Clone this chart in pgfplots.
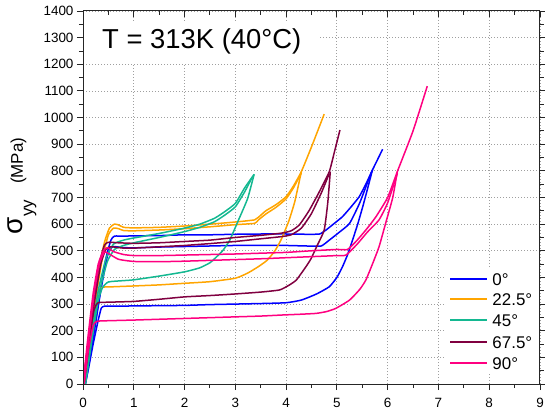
\documentclass[border=0pt]{standalone}
\usepackage{fontspec}
\setmainfont{Liberation Sans}
\usepackage{pgfplots}
\pgfplotsset{compat=1.18}
\definecolor{colblue}{RGB}{0,0,255}
\definecolor{colorange}{RGB}{255,165,0}
\definecolor{colgreen}{RGB}{20,184,145}
\definecolor{colmaroon}{RGB}{128,0,64}
\definecolor{colpink}{RGB}{255,0,128}
\pgfplotsset{
  base/.style={
    width=457bp, height=373bp, scale only axis,
    at={(0,0)}, anchor=south west,
    xmin=0, xmax=9, ymin=0, ymax=1400,
    xtick={0,1,...,9}, ytick={0,100,...,1400},
    minor x tick num=1, minor y tick num=1,
    major tick length=6bp, minor tick length=4bp,
    axis line style={line width=1bp, black!85},
    every tick/.style={line width=0.9bp, black!85},
    /pgf/number format/assume math mode=true,
    /pgf/number format/set thousands separator={},
    ticklabel style={font=\fontsize{13.5}{13.5}\selectfont},
  },
  crv/.style={line width=1.5bp, line join=round, smooth, tension=0.3},
}
\tikzset{legtxt/.style={anchor=west, inner sep=0pt, text height=12.2bp, text depth=0bp,
  font=\fontsize{17}{17}\selectfont}}
\begin{document}
\begin{tikzpicture}
\begin{axis}[base,
  tick align=outside, xtick pos=left, ytick pos=left,
  grid=major,
  major grid style={line width=0.8bp, gray!75, dash pattern=on 1bp off 2bp},
  xticklabel style={yshift=-5bp},
]
% 0 deg
\addplot[crv, color=colblue] coordinates {(0.03,0)(0.15,120)(0.3,300)(0.45,470)(0.55,540)(0.62,555)(0.8,555)(1,556)(1.5,557)(2,560)(2.5,560)(3,562)(3.5,563)(4,563)(4.4,562)(4.66,563)(4.8,580)(4.95,603)(5.11,628)(5.28,665)(5.44,703)(5.57,750)(5.7,803)(5.8,842)(5.9,881)};
\addplot[crv, color=colblue] coordinates {(0.05,0)(0.2,170)(0.35,350)(0.48,480)(0.58,515)(0.8,512)(1,511)(1.5,514)(2,516)(2.5,518)(3,520)(3.5,520)(4,520)(4.4,518)(4.69,518)(4.85,540)(5.05,570)(5.25,603)(5.45,680)(5.68,795)};
\addplot[crv, color=colblue] coordinates {(0.04,0)(0.1,50)(0.2,150)(0.3,240)(0.36,285)(0.42,292)(0.6,292)(1,293)(1.5,294)(2,295)(2.5,298)(3,300)(3.5,302)(4,305)(4.3,315)(4.6,338)(4.85,365)(5.0,400)(5.11,440)(5.21,485)(5.31,541)(5.41,600)(5.51,666)(5.6,730)(5.7,803)};
% 22.5 deg
\addplot[crv, color=colorange] coordinates {(0,0)(0.1,150)(0.2,290)(0.3,420)(0.42,530)(0.52,585)(0.62,600)(0.7,597)(0.8,588)(1,586)(1.5,588)(2,593)(2.5,600)(3,608)(3.38,616)(3.45,625)(3.6,650)(3.8,673)(4.0,703)(4.15,745)(4.3,797)(4.5,890)(4.75,1013)};
\addplot[crv, color=colorange] coordinates {(0.02,0)(0.12,150)(0.25,320)(0.38,470)(0.5,560)(0.6,585)(0.7,583)(0.8,576)(1,575)(1.5,578)(2,583)(2.5,590)(3,598)(3.38,603)(3.45,615)(3.6,638)(3.8,663)(4.0,695)(4.15,738)(4.3,792)};
\addplot[crv, color=colorange] coordinates {(0.02,0)(0.1,120)(0.2,250)(0.3,345)(0.38,363)(0.6,365)(1,368)(1.5,372)(2,378)(2.5,384)(3.0,397)(3.24,416)(3.45,440)(3.63,465)(3.78,500)(3.9,541)(4.05,610)(4.17,684)(4.3,797)};
% 45 deg
\addplot[crv, color=colgreen] coordinates {(0.03,0)(0.15,170)(0.3,350)(0.45,470)(0.6,525)(0.8,540)(1,548)(1.5,565)(2,585)(2.3,600)(2.59,622)(2.8,648)(3.0,678)(3.18,735)(3.37,787)};
\addplot[crv, color=colgreen] coordinates {(0.05,0)(0.18,170)(0.33,350)(0.48,460)(0.62,505)(0.8,520)(1,530)(1.5,550)(2,572)(2.3,588)(2.59,609)(2.8,635)(3.0,665)(3.18,720)(3.33,775)};
\addplot[crv, color=colgreen] coordinates {(0.04,0)(0.15,150)(0.28,300)(0.38,360)(0.5,383)(0.8,388)(1,391)(1.5,405)(2,421)(2.3,436)(2.5,455)(2.59,470)(2.75,500)(2.89,540)(3.05,610)(3.24,695)(3.37,787)};
% 67.5 deg
\addplot[crv, color=colmaroon] coordinates {(0,0)(0.1,150)(0.2,300)(0.32,450)(0.42,520)(0.5,532)(0.7,530)(1,528)(1.5,530)(2,535)(2.5,540)(3,550)(3.5,558)(3.9,566)(4.1,575)(4.26,597)(4.45,650)(4.65,720)(4.85,797)(4.95,870)(5.06,953)};
\addplot[crv, color=colmaroon] coordinates {(0.02,0)(0.12,150)(0.22,300)(0.35,450)(0.45,505)(0.55,515)(0.8,510)(1,510)(1.5,515)(2,520)(2.5,527)(3,535)(3.5,545)(3.9,553)(4.1,560)(4.3,585)(4.5,640)(4.7,720)(4.85,790)};
\addplot[crv, color=colmaroon] coordinates {(0.02,0)(0.12,170)(0.22,280)(0.3,305)(0.5,307)(1,310)(1.5,318)(2,327)(2.5,332)(3,338)(3.5,345)(3.87,353)(4.05,370)(4.2,390)(4.39,440)(4.49,470)(4.6,515)(4.75,578)(4.82,680)(4.87,797)};
% 90 deg
\addplot[crv, color=colpink] coordinates {(0,0)(0.1,180)(0.2,340)(0.3,450)(0.4,500)(0.48,512)(0.6,497)(0.8,486)(1,482)(1.5,482)(2,484)(2.5,486)(3,488)(3.5,491)(4,494)(4.5,500)(5.0,505)(5.21,505)(5.4,540)(5.6,585)(5.77,628)(6.0,700)(6.19,797)(6.5,950)(6.78,1118)};
\addplot[crv, color=colpink] coordinates {(0.02,0)(0.12,180)(0.22,340)(0.32,450)(0.42,495)(0.5,490)(0.7,468)(1,460)(1.5,459)(2,461)(2.5,464)(3,467)(3.5,470)(4,474)(4.5,478)(5.0,482)(5.18,484)(5.4,525)(5.6,570)(5.83,616)(6.0,680)(6.19,790)};
\addplot[crv, color=colpink] coordinates {(0.02,0)(0.1,120)(0.2,220)(0.27,235)(0.4,237)(1,240)(1.5,243)(2,246)(2.5,249)(3,252)(3.5,255)(3.93,259)(4.3,262)(4.59,265)(4.8,272)(4.98,284)(5.25,315)(5.45,355)(5.57,390)(5.7,450)(5.83,515)(5.97,610)(6.1,700)(6.19,797)};
% title
\node[fill=white, inner xsep=17bp, inner ysep=8bp, anchor=west,
  font=\fontsize{27.5}{27.5}\selectfont] at (axis cs:0.04,1284) {T = 313K (40°C)};
% legend (drawn as a key box)
\fill[white] (axis cs:7.15,42) rectangle (axis cs:8.95,432);
\draw[colblue, line width=1.5bp] (axis cs:7.23,394) -- (axis cs:7.96,394);
\node[legtxt] at (axis cs:8.06,394) {0°};
\draw[colorange, line width=1.5bp] (axis cs:7.23,319) -- (axis cs:7.96,319);
\node[legtxt] at (axis cs:8.06,319) {22.5°};
\draw[colgreen, line width=1.5bp] (axis cs:7.23,240) -- (axis cs:7.96,240);
\node[legtxt] at (axis cs:8.06,240) {45°};
\draw[colmaroon, line width=1.5bp] (axis cs:7.23,158) -- (axis cs:7.96,158);
\node[legtxt] at (axis cs:8.06,158) {67.5°};
\draw[colpink, line width=1.5bp] (axis cs:7.23,79) -- (axis cs:7.96,79);
\node[legtxt] at (axis cs:8.06,79) {90°};
\end{axis}
\begin{axis}[base, tick align=inside, xtick pos=right, ytick=\empty, xticklabels=\empty]
\end{axis}
\begin{axis}[base, tick align=outside, ytick pos=right, xtick=\empty, yticklabels=\empty]
\end{axis}
\node[rotate=90, anchor=base, inner sep=0pt] at (-60bp,198bp)
  {\fontsize{28}{28}\selectfont σ\raisebox{-10bp}{\fontsize{17}{17}\selectfont yy}\hspace{16bp}\fontsize{17}{17}\selectfont (MPa)};
\pgfresetboundingbox
\path[use as bounding box] (-83bp,-27bp) rectangle (462bp,384bp);
\end{tikzpicture}
\end{document}
